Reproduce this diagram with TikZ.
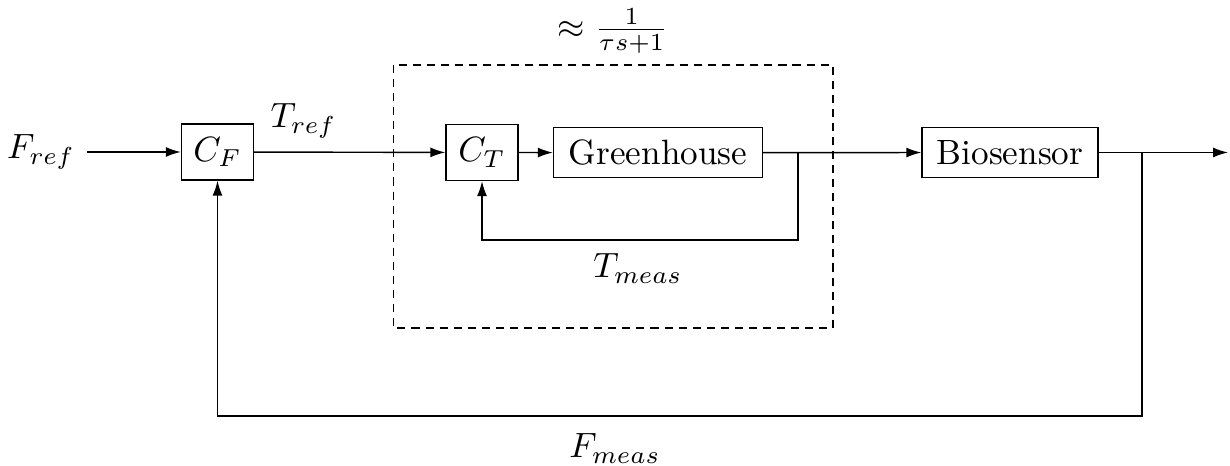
\documentclass[tikz,border=0pt]{standalone}
\usepackage{amsmath,amssymb}
\usepackage{tikz}
\usetikzlibrary{arrows.meta,positioning}
\tikzset{
  bloco/.style={rectangle,draw,minimum height=5mm,inner sep=3pt},
  ctrl/.style={rectangle,draw,minimum width=7.2mm,minimum height=5.6mm,inner sep=2pt},
  seta/.style={-{Latex[length=1.5mm,width=1mm]}},
  tracejado/.style={dash pattern=on 2.3pt off 1.7pt}
}
\begin{document}
\begin{tikzpicture}
\useasboundingbox (0,0) rectangle (12.3,-4.66);
\node (fref) at (0.41,-1.52) {$F_{ref}$};
\node[ctrl] (cf) at (2.175,-1.52) {$C_F$};
\node[ctrl] (ct) at (4.82,-1.525) {$C_T$};
\node[bloco,minimum width=20.9mm] (gh) at (6.58,-1.527) {Greenhouse};
\node[bloco,minimum width=17.6mm] (bio) at (10.10,-1.525) {Biosensor};
\coordinate (rT) at (7.98,-1.527);
\coordinate (fbT) at (7.98,-2.40);
\coordinate (rF) at (11.42,-1.525);
\coordinate (fbF) at (11.42,-4.16);
\coordinate (saida) at (12.28,-1.525);
\draw[tracejado] (3.933,-0.65) rectangle (8.33,-3.28);
\node (aprox) at (6.13,-0.31) {$\approx \frac{1}{\tau s+1}$};
\node (tref) at (3.035,-1.21) {$T_{ref}$};
\node (tmeas) at (6.38,-2.685) {$T_{meas}$};
\node (fmeas) at (6.15,-4.485) {$F_{meas}$};
\draw[seta] (fref) -- (cf);
\draw[seta] (cf) -- (ct);
\draw[seta] (ct) -- (gh);
\draw[seta] (gh) -- (bio);
\draw[seta] (bio) -- (saida);
\draw[seta] (rT) -- (fbT) -| (ct.south);
\draw[seta] (rF) -- (fbF) -| (cf.south);
\end{tikzpicture}
\end{document}
